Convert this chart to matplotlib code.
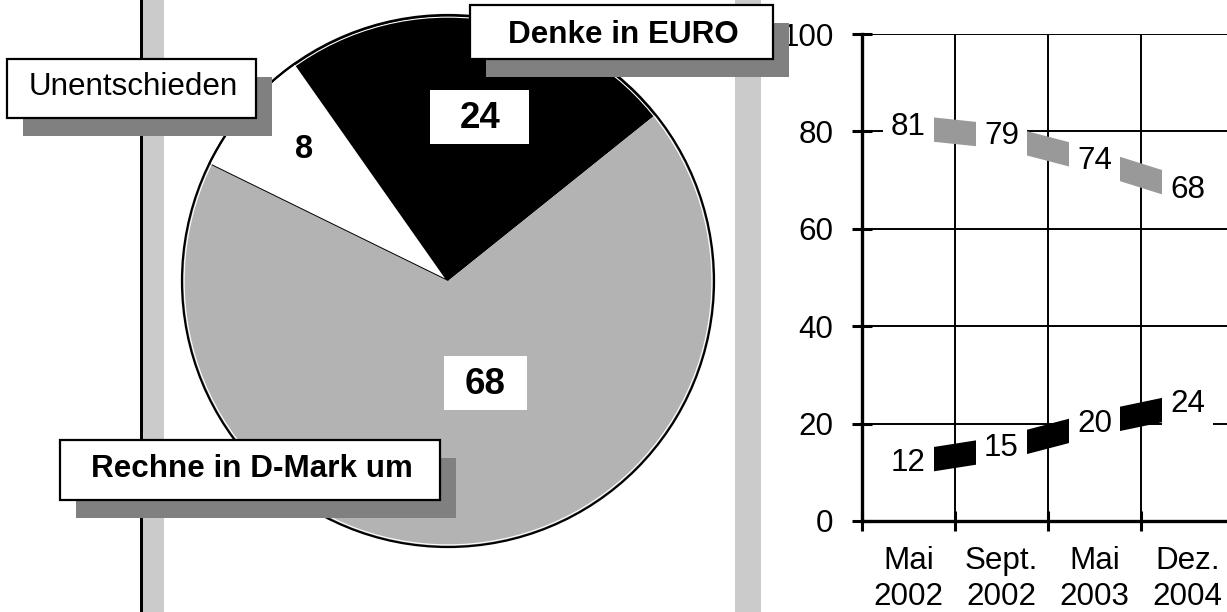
import matplotlib
matplotlib.use("Agg")
import matplotlib.pyplot as plt
from matplotlib.patches import Rectangle, Circle

plt.rcParams["font.family"] = ["Liberation Sans", "DejaVu Sans"]

# pie: "Denke in EURO", "Unentschieden", "Rechne in D-Mark um"
pie_labels = ["Denke in EURO", "Unentschieden", "Rechne in D-Mark um"]
pie_values = [24, 8, 68]
pie_colors = ["#000000", "#ffffff", "#b3b3b3"]

# line chart
periods = ["Mai\n2002", "Sept.\n2002", "Mai\n2003", "Dez.\n2004"]
dmark_values = [81, 79, 74, 68]
euro_values = [12, 15, 20, 24]
y_ticks = [0, 20, 40, 60, 80, 100]

W, H = 1227, 612
FS = 22.6
RIBBON = 2.5  # half thickness of the ribbons, in percent points


def fig_rect(fig, x0, y0, x1, y1, **kw):
    # pixel box measured from the top-left corner
    rect = Rectangle((x0 / W, 1 - y1 / H), (x1 - x0) / W, (y1 - y0) / H,
                     transform=fig.transFigure, **kw)
    fig.add_artist(rect)
    return rect


def fig_text(fig, x, y, text, **kw):
    return fig.text(x / W, 1 - y / H, text, ha="center", va="baseline", zorder=8, **kw)


def label_box(fig, box, baseline, text, bold):
    x0, y0, x1, y1 = box
    fig_rect(fig, x0 + 16, y0 + 18, x1 + 16, y1 + 18, fc="#808080", ec="none", zorder=5)
    fig_rect(fig, x0, y0, x1, y1, fc="white", ec="black", lw=1.6, zorder=6)
    fig_text(fig, (x0 + x1) / 2 + 2, baseline, text, fontsize=FS,
             fontweight="bold" if bold else "normal")


fig = plt.figure(figsize=(W / 100, H / 100), dpi=100)

# decorative vertical bars
fig_rect(fig, 140, 0, 142.5, H, fc="black", ec="none", zorder=-2)
fig_rect(fig, 142.5, 0, 164, H, fc="#cbcbcb", ec="none", zorder=-2)
fig_rect(fig, 735, 0, 761, H, fc="#cbcbcb", ec="none", zorder=-2)

# ---- line chart on the right ----
ax = fig.add_axes([862 / W, (H - 521) / H, 372 / W, 487 / H])
x = list(range(len(periods)))
ax.set_xlim(-0.5, 3.5)
ax.set_ylim(0, 100)
ax.set_axisbelow(True)

dm_lo = [v - RIBBON for v in dmark_values]
dm_hi = [v + RIBBON for v in dmark_values]
eu_lo = [v - RIBBON for v in euro_values]
eu_hi = [v + RIBBON for v in euro_values]
ax.fill_between(x, dm_lo, dm_hi, color="#999999", lw=0, zorder=2)
ax.fill_between(x, eu_lo, eu_hi, color="black", lw=0, zorder=2)

for xi, v in zip(x, dmark_values):
    ax.text(xi, v, str(v), ha="center", va="center", fontsize=FS, zorder=4,
            bbox=dict(boxstyle="square,pad=0.25", fc="white", ec="none"))
for xi, v in zip(x, euro_values):
    ax.text(xi, v, str(v), ha="center", va="center", fontsize=FS, zorder=4,
            bbox=dict(boxstyle="square,pad=0.25", fc="white", ec="none"))

ax.set_yticks(y_ticks)
ax.set_yticklabels([str(t) for t in y_ticks], fontsize=FS)
ax.set_xticks(x)
ax.set_xticklabels(periods, fontsize=FS, linespacing=1.28)
ax.set_xticks([i - 0.5 for i in x], minor=True)
ax.tick_params(axis="y", direction="inout", length=15, width=2.2, pad=13)
ax.tick_params(axis="x", which="major", length=0, pad=18)
ax.tick_params(axis="x", which="minor", direction="inout", length=15, width=2.2)
ax.grid(axis="y", which="major", color="black", lw=1.4)
ax.grid(axis="x", which="minor", color="black", lw=1.4)
for side in ("top", "right"):
    ax.spines[side].set_visible(False)
for side in ("left", "bottom"):
    ax.spines[side].set_linewidth(2.4)

# ---- pie on the left ----
R = 266
L = 1.05
half = R * L
ax_pie = fig.add_axes([(448 - half) / W, (H - 281 - half) / H, 2 * half / W, 2 * half / H])
wedges, _ = ax_pie.pie(pie_values, colors=pie_colors, startangle=38.7, counterclock=True,
                       wedgeprops=dict(linewidth=0))
wedges[1].set_edgecolor("black")
wedges[1].set_linewidth(1.4)
ax_pie.add_patch(Circle((0, 0), 0.992, fill=False, ec="white", lw=0.8))
ax_pie.add_patch(Circle((0, 0), 1.0, fill=False, ec="black", lw=1.6, clip_on=False))
ax_pie.set_xlim(-L, L)
ax_pie.set_ylim(-L, L)
ax_pie.set_aspect("equal")
ax_pie.axis("off")

# value labels in the pie
fig_rect(fig, 430, 90, 529, 144, fc="white", ec="none", zorder=6)
fig_text(fig, 480, 128, str(pie_values[0]), fontsize=26.5, fontweight="bold")
fig_text(fig, 304.5, 158, str(pie_values[1]), fontsize=23.5, fontweight="bold")
fig_rect(fig, 444, 356, 527, 410, fc="white", ec="none", zorder=6)
fig_text(fig, 485.5, 394, str(pie_values[2]), fontsize=26.5, fontweight="bold")

# category boxes with shadow
label_box(fig, (470, 5, 773, 59), 43, pie_labels[0], True)
label_box(fig, (7, 59, 256, 118), 95, pie_labels[1], False)
label_box(fig, (60, 440, 440, 500), 477, pie_labels[2], True)

fig.savefig("out.png", dpi=100)
